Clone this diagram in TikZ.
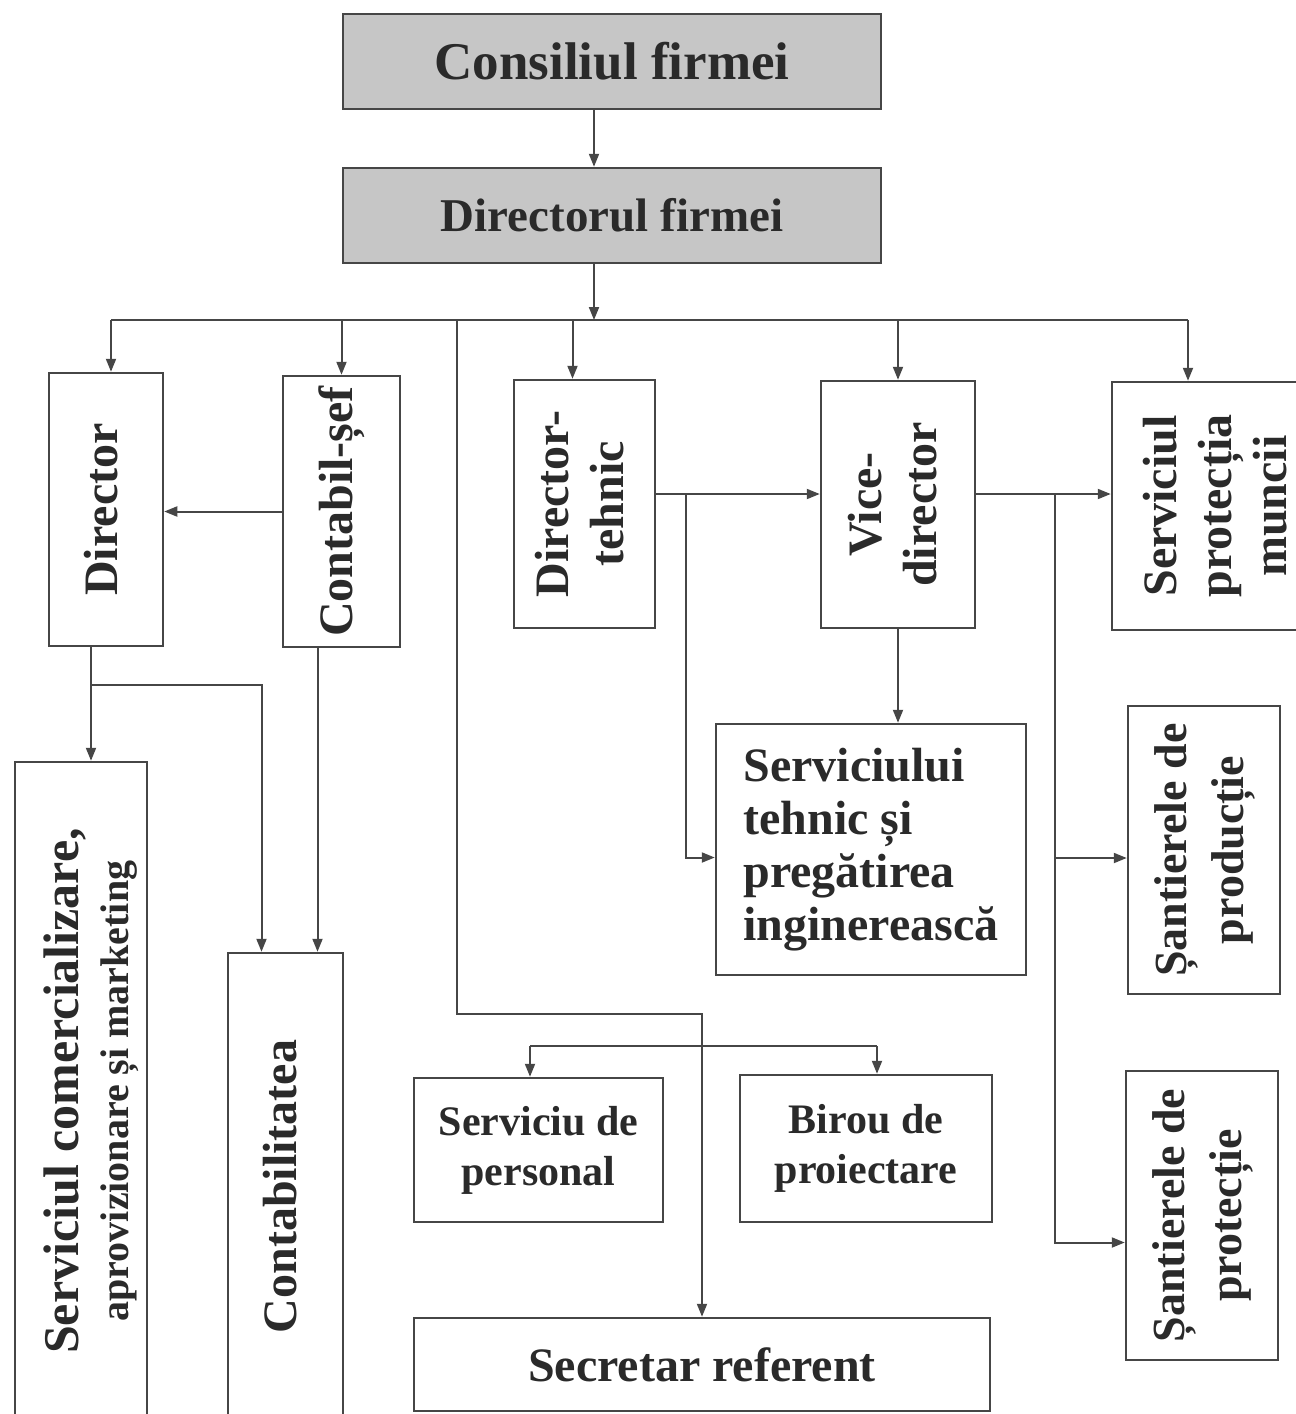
\documentclass[tikz,border=0pt]{standalone}
\usepackage{fontspec}
\setmainfont{Liberation Serif}
\usepackage{graphicx}
\usetikzlibrary{arrows.meta,positioning,calc}
\definecolor{boxgray}{RGB}{198,198,198}
\definecolor{inkgray}{RGB}{70,70,70}
\definecolor{textgray}{RGB}{42,42,42}
\newcommand{\vlabel}[1]{\rotatebox{90}{\begin{tabular}{@{}c@{}}#1\end{tabular}}}
\tikzset{
  block/.style={
    draw=inkgray,
    line width=2.5pt,
    inner sep=0pt,
    align=center,
    text=textgray,
    font=\bfseries\fontsize{48}{55}\selectfont
  },
  arrowline/.style={-{Triangle[length=13pt,width=10pt]}, line width=2pt, draw=inkgray},
  wire/.style={line width=2pt, draw=inkgray}
}

\begin{document}
\begin{tikzpicture}[x=1pt,y=-1pt]
        \useasboundingbox (0,0) rectangle (1296,1414);
        \clip (0,0) rectangle (1296,1414);
        \node[block, fill=boxgray, minimum width=538pt, minimum height=95pt, font=\bfseries\fontsize{53}{60}\selectfont] (cons) at (612,61.5) {Consiliul firmei};
        \node[block, fill=boxgray, minimum width=538pt, minimum height=95pt, font=\bfseries\fontsize{47}{55}\selectfont] (dirf) at (612,215.5) {Directorul firmei};
        \node[block, minimum width=114pt, minimum height=273pt] (dir) at (106,509.5) {\vlabel{Director}};
        \node[block, minimum width=117pt, minimum height=271pt] (cont) at (341.5,511.5) {\vlabel{Contabil-șef}};
        \node[block, minimum width=141pt, minimum height=248pt] (dirt) at (584.5,504) {\vlabel{Director-\\tehnic}};
        \node[block, minimum width=154pt, minimum height=247pt] (vice) at (898,504.5) {\vlabel{Vice-\\director}};
        \node[block, minimum width=216pt, minimum height=248pt] (prot) at (1220,506) {\vlabel{Serviciul\\protecția\\muncii}};
        \node[block, minimum width=310pt, minimum height=251pt, align=left, font=\bfseries\fontsize{48}{53}\selectfont] (teh) at (871,849.5) {Serviciului\\tehnic și\\pregătirea\\inginerească};
        \node[block, minimum width=152pt, minimum height=288pt, font=\bfseries\fontsize{46}{57}\selectfont] (sprod) at (1204,850) {\vlabel{Șantierele de\\producție}};
        \node[block, minimum width=152pt, minimum height=289pt, font=\bfseries\fontsize{46}{57}\selectfont] (sprot) at (1202,1215.5) {\vlabel{Șantierele de\\protecție}};
        \node[block, minimum width=132pt, minimum height=658pt, font=\bfseries\fontsize{50}{50}\selectfont] (com) at (81,1091) {\vlabel{\rule{0pt}{60pt}Serviciul comercializare,\\{\fontsize{40}{46}\selectfont aprovizionare și marketing}}};
        \node[block, minimum width=115pt, minimum height=467pt] (contab) at (285.5,1186.5) {\vlabel{Contabilitatea}};
        \node[block, minimum width=249pt, minimum height=144pt, font=\bfseries\fontsize{42}{50}\selectfont] (pers) at (538.5,1150) {Serviciu de\\personal};
        \node[block, minimum width=252pt, minimum height=147pt, font=\bfseries\fontsize{42}{50}\selectfont] (birou) at (866,1148.5) {Birou de\\proiectare};
        \node[block, minimum width=576pt, minimum height=93pt] (secr) at (702,1364.5) {Secretar referent};

        \coordinate (bus) at (594,320);
        \coordinate (busL) at (111,320);
        \coordinate (busR) at (1188,320);
        \coordinate (dtn) at ([xshift=-12pt]dirt.north);
        \coordinate (turn) at (457,1014);
        \coordinate (dj) at (91,685);
        \coordinate (cb) at ([xshift=-24pt]cont.south);
        \coordinate (ca) at ([xshift=-24pt]contab.north);
        \coordinate (tj) at (686,494);
        \coordinate (vj) at (1055,494);
        \coordinate (pbL) at (530,1046);
        \coordinate (pbR) at (877,1046);

        \draw[arrowline] (cons.south -| bus) -- (dirf.north -| bus);
        \draw[arrowline] (dirf.south -| bus) -- (bus);
        \draw[wire] (busL) -- (busR);
        \draw[arrowline] (busL) -- (busL |- dir.north);
        \draw[arrowline] (cont.north |- bus) -- (cont.north);
        \draw[arrowline] (bus -| dtn) -- (dtn);
        \draw[arrowline] (vice.north |- bus) -- (vice.north);
        \draw[arrowline] (busR) -- (busR |- prot.north);
        \draw[arrowline] (turn |- bus) -- (turn) -| (secr.north);
        \draw[arrowline] (cont.west) -- (cont.west -| dir.east);
        \draw[wire] (dir.south -| dj) -- (dj);
        \draw[arrowline] (dj) -- (dj |- com.north);
        \draw[arrowline] (dj) -| (ca);
        \draw[arrowline] (cb) -- (cb |- contab.north);
        \draw[arrowline] (tj -| dirt.east) -- (tj -| vice.west);
        \draw[arrowline] (tj) |- ([yshift=-8pt]teh.west);
        \draw[arrowline] (vice.south) -- (vice.south |- teh.north);
        \draw[arrowline] (vj -| vice.east) -- (vj -| prot.west);
        \draw[arrowline] (vj) |- ([yshift=-8pt]sprod.west);
        \draw[arrowline] (vj) |- ([yshift=-27pt]sprot.west);
        \draw[wire] (pbL) -- (pbR);
        \draw[arrowline] (pbL) -- (pbL |- pers.north);
        \draw[arrowline] (pbR) -- (pbR |- birou.north);
      \end{tikzpicture}
\end{document}
